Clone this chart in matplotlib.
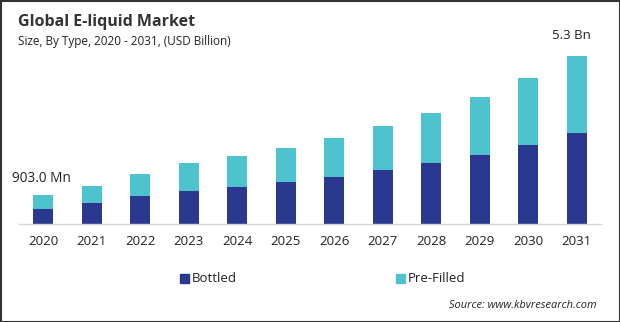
"""Stacked bar chart of the global e-liquid market by type, 2020-2031."""

import matplotlib.pyplot as plt
from matplotlib.patches import Rectangle

years = [str(y) for y in range(2020, 2032)]
bottled = [0.47, 0.66, 0.88, 1.04, 1.17, 1.33, 1.48, 1.70, 1.92, 2.18, 2.49, 2.87]
pre_filled = [0.433, 0.54, 0.70, 0.88, 0.98, 1.07, 1.23, 1.39, 1.58, 1.83, 2.12, 2.43]
first_label = "903.0 Mn"
last_label = "5.3 Bn"

BOTTLED_COLOR = "#2b388f"
PREFILLED_COLOR = "#4fc3cd"
FONT = ["Open Sans", "DejaVu Sans"]


def main() -> None:
    plt.rcParams["font.family"] = FONT
    fig = plt.figure(figsize=(6.2, 3.22), dpi=100)
    ax = fig.add_axes([19 / 620, (322 - 224) / 322, 582 / 620, 194 / 322])

    x = list(range(len(years)))
    totals = [b + p for b, p in zip(bottled, pre_filled)]
    ax.bar(x, bottled, width=0.41, color=BOTTLED_COLOR, label="Bottled")
    ax.bar(x, pre_filled, width=0.41, bottom=bottled, color=PREFILLED_COLOR, label="Pre-Filled")

    ax.set_xlim(-0.5, len(years) - 0.5)
    ax.set_ylim(0, 6.12)
    ax.set_xticks(x)
    ax.set_xticklabels(years, fontsize=9.5, color="#222222")
    ax.tick_params(axis="x", length=0, pad=8)
    ax.set_yticks([])
    for side in ("top", "right", "left"):
        ax.spines[side].set_visible(False)
    ax.spines["bottom"].set_color("#d9d9d9")
    ax.spines["bottom"].set_linewidth(1.0)

    # value callouts on the first and last bars
    ax.annotate(first_label, (x[0], totals[0]), xytext=(-1, 7), textcoords="offset points",
                ha="center", va="bottom", fontsize=9.8, color="#222222")
    ax.annotate(last_label, (x[-1], totals[-1]), xytext=(-4, 10), textcoords="offset points",
                ha="center", va="bottom", fontsize=9.5, color="#222222")

    fig.text(18 / 620, 1 - 22 / 322, "Global E-liquid Market", fontsize=11.5,
             fontweight="bold", color="#333333", va="center", ha="left")
    fig.text(18 / 620, 1 - 42 / 322, "Size, By Type, 2020 - 2031, (USD Billion)", fontsize=8.5,
             color="#222222", va="center", ha="left")

    # legend drawn as two swatches with labels below the axis
    for sx, label, color in ((180, "Bottled", BOTTLED_COLOR), (396, "Pre-Filled", PREFILLED_COLOR)):
        fig.patches.append(Rectangle((sx / 620, 1 - 282.5 / 322), 9 / 620, 9 / 322,
                                     transform=fig.transFigure, color=color))
        fig.text((sx + 12) / 620, 1 - 278 / 322, label, fontsize=9.5, color="#222222",
                 va="center", ha="left")

    fig.text(597 / 620, 1 - 306 / 322, "Source: www.kbvresearch.com", fontsize=7.9,
             style="italic", color="#222222", va="center", ha="right")

    # outer frame
    fig.patches.append(Rectangle((0.5 / 620, 0.5 / 322), 619 / 620, 321 / 322,
                                 transform=fig.transFigure, fill=False,
                                 edgecolor="#333333", linewidth=1.5))

    fig.savefig("out.png", dpi=100)
    plt.close(fig)


if __name__ == "__main__":
    main()
